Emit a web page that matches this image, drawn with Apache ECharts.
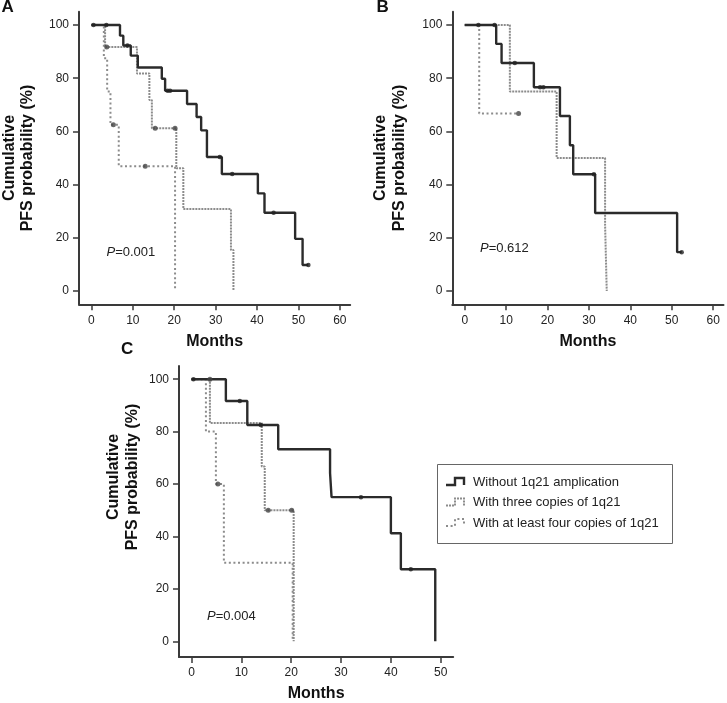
<!DOCTYPE html>
<html><head><meta charset="utf-8">
<script src="https://cdn.jsdelivr.net/npm/echarts@6/dist/echarts.min.js"></script>
<style>html,body{margin:0;padding:0;background:#fff}#c{width:727px;height:703px}</style>
</head><body><div id="c"></div>
<script>
// ---------- data ----------
const groupNames = ['Without 1q21 amplication', 'With three copies of 1q21', 'With at least four copies of 1q21'];
const yTicks = [0, 20, 40, 60, 80, 100];
const xTicksAB = [0, 10, 20, 30, 40, 50, 60];
const xTicksC = [0, 10, 20, 30, 40, 50];
const pValues = ['0.001', '0.612', '0.004'];

// Panel A
const A_withoutT = [0, 6.9, 7.7, 9.5, 11.2, 17.0, 17.8, 23.1, 25.4, 26.5, 27.9, 31.5, 40.2, 41.8, 49.2, 51.0, 52.4];
const A_withoutS = [100, 96.0, 92.3, 88.5, 84.0, 79.8, 75.3, 70.3, 65.4, 60.4, 50.4, 44.0, 36.7, 29.4, 19.6, 9.8, 9.8];
const A_withoutCensT = [0.5, 3.6, 8.7, 18.4, 19.0, 31.0, 34.0, 44.0, 52.4];
const A_withoutCensS = [100, 100, 92.3, 75.3, 75.3, 50.4, 44.0, 29.4, 9.8];
const A_threeT = [0, 3.3, 11.0, 14.0, 14.6, 20.5, 22.2, 33.7, 34.3];
const A_threeS = [100, 91.7, 81.8, 71.8, 61.2, 46.1, 30.8, 15.4, 0];
const A_threeCensT = [3.7, 15.4, 20.2];
const A_threeCensS = [91.7, 61.2, 61.2];
const A_fourT = [0, 3.0, 3.8, 4.6, 6.6, 20.2];
const A_fourS = [100, 87.5, 75.0, 62.5, 46.9, 0];
const A_fourCensT = [5.3, 13.0];
const A_fourCensS = [62.5, 46.9];

// Panel B
const B_withoutT = [0, 7.6, 8.9, 16.7, 23.0, 25.4, 26.2, 31.5, 51.3, 52.4];
const B_withoutS = [100, 92.9, 85.7, 76.6, 65.8, 54.8, 43.9, 29.3, 14.6, 14.6];
const B_withoutCensT = [3.3, 7.2, 12.1, 18.2, 19.0, 31.2, 52.4];
const B_withoutCensS = [100, 100, 85.7, 76.6, 76.6, 43.9, 14.6];
const B_threeT = [0, 10.9, 22.2, 33.9, 34.3];
const B_threeS = [100, 75, 50, 25, 0];
const B_threeCensT = [];
const B_threeCensS = [];
const B_fourT = [0, 3.5, 13.0];
const B_fourS = [100, 66.7, 66.7];
const B_fourCensT = [13.0];
const B_fourCensS = [66.7];

// Panel C
const C_withoutT = [0, 6.9, 11.2, 17.4, 27.8, 28.1, 40.0, 42.0, 48.9];
const C_withoutS = [100, 91.7, 82.5, 73.3, 64.2, 55.0, 41.2, 27.5, 0];
const C_withoutCensT = [0.4, 9.7, 13.9, 34.0, 44.0];
const C_withoutCensS = [100, 91.7, 82.5, 55.0, 27.5];
const C_threeT = [0, 3.7, 14.1, 14.7, 20.5];
const C_threeS = [100, 83.3, 66.7, 50.0, 0];
const C_threeCensT = [3.7, 15.4, 20.1];
const C_threeCensS = [100, 50.0, 50.0];
const C_fourT = [0, 2.9, 4.9, 6.5, 20.3];
const C_fourS = [100, 80, 60, 30, 0];
const C_fourCensT = [5.3];
const C_fourCensS = [60];

// ---------- build ----------
const zip = (a, b) => a.map((v, i) => [v, b[i]]);
const FONT = 'Liberation Sans, Arial, Helvetica, sans-serif';
const AX = '#3a3a3a';
const styles = [
  { color: '#2b2b2b', width: 2.4, type: 'solid', dash: null, z: 5 },
  { color: '#8c8c8c', width: 2, type: [2, 1], dash: [2, 1], z: 4 },
  { color: '#8c8c8c', width: 2, type: [2, 2.6], dash: [2, 2.6], z: 3 }
];

const panels = [
  { curves: [[A_withoutT, A_withoutS, A_withoutCensT, A_withoutCensS], [A_threeT, A_threeS, A_threeCensT, A_threeCensS], [A_fourT, A_fourS, A_fourCensT, A_fourCensS]] },
  { curves: [[B_withoutT, B_withoutS, B_withoutCensT, B_withoutCensS], [B_threeT, B_threeS, B_threeCensT, B_threeCensS], [B_fourT, B_fourS, B_fourCensT, B_fourCensS]] },
  { curves: [[C_withoutT, C_withoutS, C_withoutCensT, C_withoutCensS], [C_threeT, C_threeS, C_threeCensT, C_threeCensS], [C_fourT, C_fourS, C_fourCensT, C_fourCensS]] }
];

const grids = [
  { left: 79, top: 11.7, width: 271.2, height: 292.6 },
  { left: 452.3, top: 11.7, width: 271.2, height: 292.6 },
  { left: 179.0, top: 366.1, width: 274.2, height: 293.6 }
];
const xRanges = [[-3, 62.5, xTicksAB], [-3, 62.5, xTicksAB], [-2.5, 52.5, xTicksC]];
const yRanges = [[-5, 105], [-5, 105], [-6, 105]];

const xAxis = xRanges.map((r, i) => ({
  type: 'value', gridIndex: i, min: r[0], max: r[1],
  name: 'Months', nameLocation: 'middle', nameGap: 29,
  nameTextStyle: { fontSize: 16, fontWeight: 'bold', color: '#111', fontFamily: FONT },
  splitLine: { show: false },
  axisLine: { onZero: false, lineStyle: { color: AX, width: 2 } },
  axisTick: { show: true, length: 6, customValues: r[2], lineStyle: { color: AX, width: 1.5 } },
  axisLabel: { customValues: r[2], fontSize: 12, color: '#222', margin: 10, fontFamily: FONT }
}));
const yAxis = yRanges.map((r, i) => ({
  type: 'value', gridIndex: i, min: r[0], max: r[1],
  splitLine: { show: false },
  axisLine: { show: true, onZero: false, lineStyle: { color: AX, width: 2 } },
  axisTick: { show: true, length: 6, customValues: yTicks, lineStyle: { color: AX, width: 1.5 } },
  axisLabel: { customValues: yTicks, fontSize: 12, color: '#222', margin: 10, fontFamily: FONT }
}));

const series = [];
panels.forEach((p, pi) => {
  p.curves.forEach((c, ci) => {
    const st = styles[ci];
    series.push({
      type: 'line', name: groupNames[ci], xAxisIndex: pi, yAxisIndex: pi,
      step: 'end', symbol: 'none', data: zip(c[0], c[1]), z: st.z,
      lineStyle: { color: st.color, width: st.width, type: st.type },
      itemStyle: { color: st.color }, animation: false
    });
    if (c[2].length) {
      series.push({
        type: 'scatter', name: 'censor' + pi + ci, xAxisIndex: pi, yAxisIndex: pi,
        data: zip(c[2], c[3]), symbol: 'circle', symbolSize: ci === 0 ? 4.5 : 5,
        itemStyle: { color: ci === 0 ? '#222' : '#444' }, z: 6, animation: false
      });
    }
  });
});

const yTitle = (x, y) => ({
  type: 'text', x: x, y: y, rotation: Math.PI / 2,
  style: { text: 'Cumulative\nPFS probability (%)', align: 'center', verticalAlign: 'middle',
    font: 'bold 16px ' + FONT, fill: '#111', lineHeight: 18.5 }
});
const panelLabel = (t, x, y) => ({
  type: 'text', left: x, top: y,
  style: { text: t, font: 'bold 17px ' + FONT, fill: '#111' }
});
const pText = (v, x, y) => ({
  type: 'text', left: x, top: y,
  style: { text: '{i|P}=' + v, font: '13px ' + FONT, fill: '#222',
    rich: { i: { fontStyle: 'italic', fontSize: 13, fontFamily: FONT, fill: '#222' } } }
});

// legend (drawn as a boxed key with step glyphs)
const LEG = { x: 437, y: 464, w: 235, h: 79, row0: 482, rowGap: 20.5, iconX: 446, textX: 473 };
const legendGraphics = [{
  type: 'rect', shape: { x: LEG.x + 0.5, y: LEG.y + 0.5, width: LEG.w, height: LEG.h },
  style: { fill: '#fff', stroke: '#666', lineWidth: 1 }, z: 10
}];
groupNames.forEach((n, i) => {
  const cy = LEG.row0 + i * LEG.rowGap;
  const st = styles[i];
  legendGraphics.push({
    type: 'polyline', z: 11,
    shape: { points: [[LEG.iconX, cy + 3], [LEG.iconX + 9, cy + 3], [LEG.iconX + 9, cy - 4], [LEG.iconX + 18, cy - 4], [LEG.iconX + 18, cy + 3]] },
    style: { stroke: st.color, lineWidth: st.width, lineDash: st.dash, fill: null }
  });
  legendGraphics.push({
    type: 'text', x: LEG.textX, y: cy, z: 11,
    style: { text: n, font: '13px ' + FONT, fill: '#222', verticalAlign: 'middle', align: 'left' }
  });
});

const option = {
  backgroundColor: '#fff',
  animation: false,
  grid: grids,
  xAxis: xAxis,
  yAxis: yAxis,
  graphic: [
    yTitle(18.5, 158), yTitle(390, 158), yTitle(123, 477),
    panelLabel('A', 1.5, -1), panelLabel('B', 376.5, -1), panelLabel('C', 121, 341),
    pText(pValues[0], 106.5, 246), pText(pValues[1], 480, 242), pText(pValues[2], 207, 610)
  ].concat(legendGraphics),
  series: series
};
const chart = echarts.init(document.getElementById('c'), null, { renderer: 'canvas' });
chart.setOption(option);
</script></body></html>
